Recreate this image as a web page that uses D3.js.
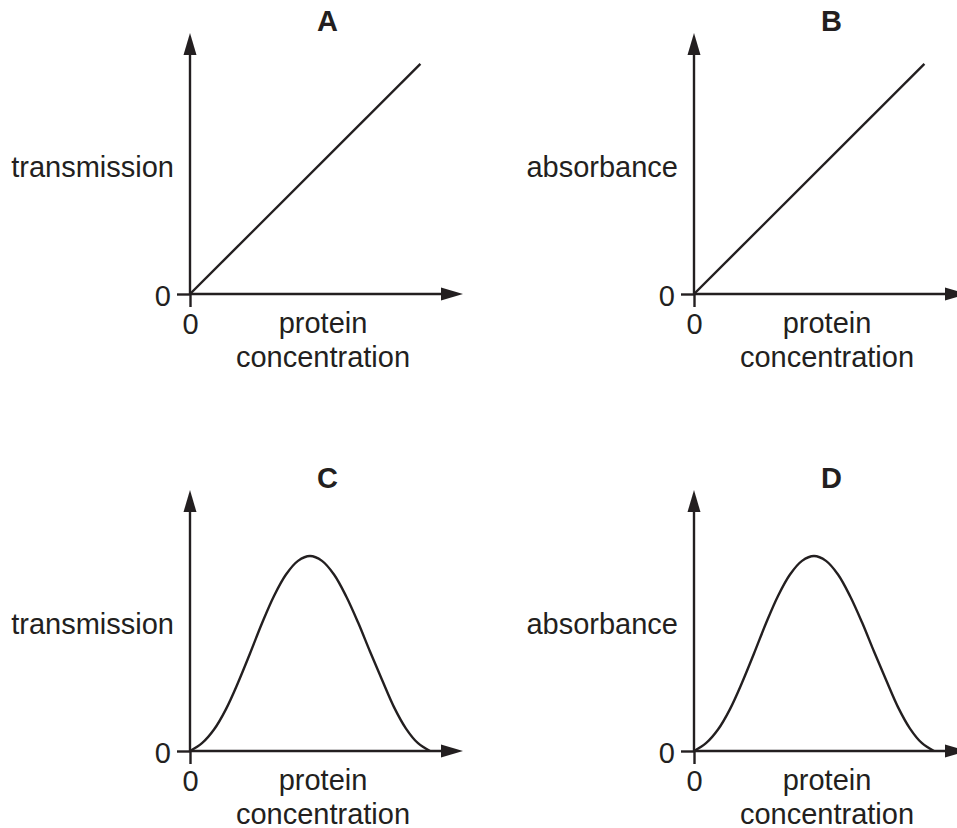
<!DOCTYPE html>
<html>
<head>
<meta charset="utf-8">
<script src="https://cdn.jsdelivr.net/npm/d3@7"></script>
<style>
  body { margin: 0; background: #fff; }
  svg { display: block; }
  text { font-family: "Liberation Sans", Arial, sans-serif; fill: #231f20; }
</style>
</head>
<body>
<div id="chart"></div>
<script>
// panel data
var panelNames = ["A", "B", "C", "D"];
var yLabels = ["transmission", "absorbance", "transmission", "absorbance"];
var xLabelLines = ["protein", "concentration"];
var panelShapes = ["line", "line", "bell", "bell"];

// straight line (A, B), in arbitrary units
var lineX = [0, 9.6];
var lineY = [0, 11.8];

// bell curve (C, D)
var bellX = [0, 0.5, 1, 1.5, 2, 2.5, 3, 3.5, 4, 4.5, 5, 5.5, 6, 6.5, 7, 7.5, 8, 8.5, 9, 9.5, 10];
var bellY = [0, 0.4, 1.1, 2.15, 3.5, 5.0, 6.55, 7.95, 9.05, 9.75, 10, 9.75, 9.05, 7.95, 6.6, 5.1, 3.65, 2.25, 1.15, 0.4, 0];

var tickValues = [0];
var xAxisMax = 11.375;
var yAxisMax = 13.38;

var width = 957;
var height = 828;
var ink = "#231f20";
var fontSize = 29;

// where each panel's origin sits
var origins = [[190, 294], [694, 294], [190, 751], [694, 751]];

var svg = d3.select("#chart")
    .append("svg")
    .attr("width", width)
    .attr("height", height);

var x = d3.scaleLinear().domain([0, 10]).range([0, 240]);
var y = d3.scaleLinear().domain([0, 10]).range([0, -195]);

var line = d3.line()
    .x(function(d) { return x(d[0]) })
    .y(function(d) { return y(d[1]) });

var bellLine = d3.line()
    .x(function(d) { return x(d[0]) })
    .y(function(d) { return y(d[1]) })
    .curve(d3.curveCatmullRom);

var arrowLen = 22, arrowHalf = 6.5;

for (let i = 0; i < panelNames.length; i++) {
    let g = svg.append("g")
        .attr("transform", "translate(" + origins[i][0] + "," + origins[i][1] + ")");

    // axes with only the 0 tick
    let ax = g.append("g")
        .call(d3.axisBottom(x).tickValues(tickValues).tickSize(13).tickPadding(6).tickFormat(d3.format("d")));
    let ay = g.append("g")
        .call(d3.axisLeft(y).tickValues(tickValues).tickSize(13).tickPadding(6).tickFormat(d3.format("d")));
    [ax, ay].forEach(function(a) {
        a.select(".domain").remove();
        a.attr("font-size", null).attr("font-family", null);
        a.selectAll(".tick line").attr("stroke", ink).attr("stroke-width", 2.4);
        a.selectAll(".tick text").style("font-size", fontSize + "px").attr("fill", ink);
    });
    ay.selectAll(".tick text").attr("dy", "0.38em");

    // axis lines with arrowheads
    let xEnd = x(xAxisMax), yEnd = y(yAxisMax);
    g.append("line")
        .attr("x1", 0).attr("y1", 0)
        .attr("x2", xEnd - arrowLen + 2).attr("y2", 0)
        .attr("stroke", ink).attr("stroke-width", 2.4);
    g.append("path")
        .attr("d", "M" + xEnd + ",0L" + (xEnd - arrowLen) + "," + (-arrowHalf) + "L" + (xEnd - arrowLen) + "," + arrowHalf + "Z")
        .attr("fill", ink);
    g.append("line")
        .attr("x1", 0).attr("y1", 0)
        .attr("x2", 0).attr("y2", yEnd + arrowLen - 2)
        .attr("stroke", ink).attr("stroke-width", 2.4);
    g.append("path")
        .attr("d", "M0," + yEnd + "L" + (-arrowHalf) + "," + (yEnd + arrowLen) + "L" + arrowHalf + "," + (yEnd + arrowLen) + "Z")
        .attr("fill", ink);

    // data
    if (panelShapes[i] === "line") {
        g.append("path")
            .datum(d3.zip(lineX, lineY))
            .attr("fill", "none")
            .attr("stroke", ink)
            .attr("stroke-width", 2.4)
            .attr("d", line);
    } else {
        g.append("path")
            .datum(d3.zip(bellX, bellY))
            .attr("fill", "none")
            .attr("stroke", ink)
            .attr("stroke-width", 2.4)
            .attr("d", bellLine);
    }

    // title
    g.append("text")
        .attr("x", 137.5)
        .attr("y", -263)
        .attr("text-anchor", "middle")
        .style("font-size", fontSize + "px")
        .style("font-weight", "bold")
        .text(panelNames[i]);

    // y label
    g.append("text")
        .attr("x", -16)
        .attr("y", -117.5)
        .attr("text-anchor", "end")
        .style("font-size", fontSize + "px")
        .text(yLabels[i]);

    // x label, two lines
    g.append("text")
        .attr("x", 133)
        .attr("y", 39)
        .attr("text-anchor", "middle")
        .style("font-size", fontSize + "px")
        .text(xLabelLines[0]);
    g.append("text")
        .attr("x", 133)
        .attr("y", 72.5)
        .attr("text-anchor", "middle")
        .style("font-size", fontSize + "px")
        .text(xLabelLines[1]);
}
</script>
</body>
</html>
